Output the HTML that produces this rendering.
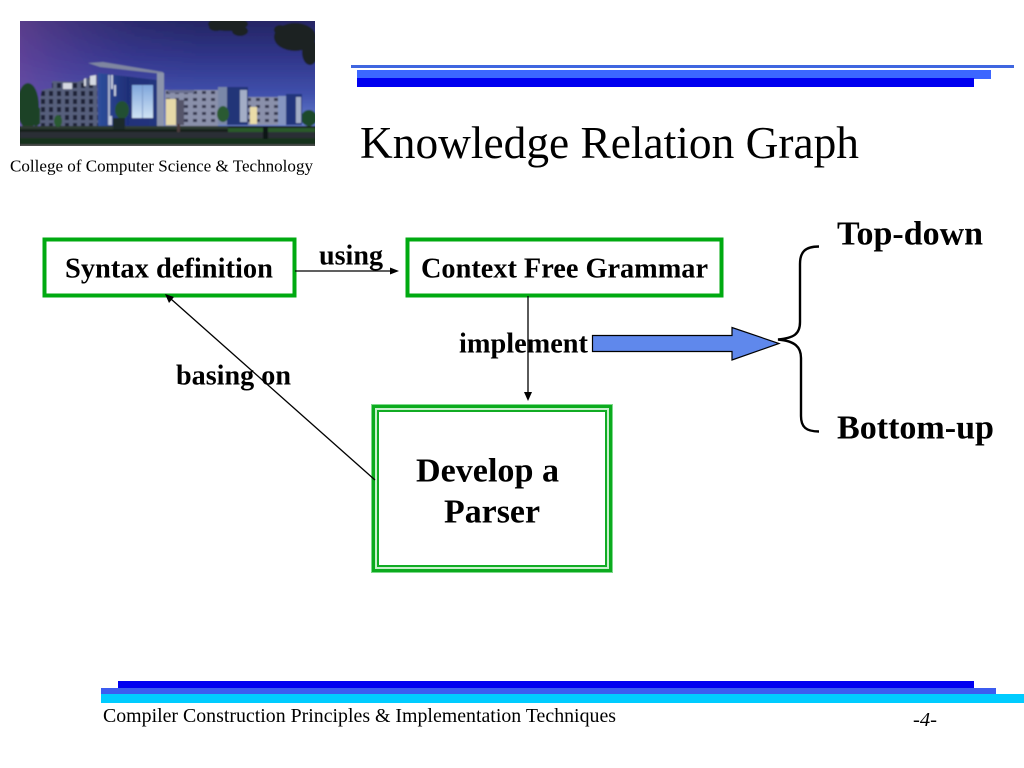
<!DOCTYPE html>
<html><head><meta charset="utf-8"><style>
html,body{margin:0;padding:0;background:#fff;width:1024px;height:768px;overflow:hidden}
svg{display:block}
text{font-family:"Liberation Serif",serif;fill:#000}
.b{font-weight:bold}
</style></head><body>
<svg width="1024" height="768" viewBox="0 0 1024 768" xmlns="http://www.w3.org/2000/svg">
<defs>
<linearGradient id="sky" x1="0" y1="0" x2="0" y2="1"><stop offset="0" stop-color="#23245e"/><stop offset=".35" stop-color="#2f3488"/><stop offset=".7" stop-color="#4050ac"/><stop offset="1" stop-color="#6a84d2"/></linearGradient>
<linearGradient id="skyL" x1="0" y1="0" x2="1" y2="0"><stop offset="0" stop-color="#7a4aa0" stop-opacity=".65"/><stop offset=".4" stop-color="#5040a0" stop-opacity=".15"/><stop offset=".6" stop-color="#5040a0" stop-opacity="0"/></linearGradient>
<linearGradient id="cen" x1="0" y1="0" x2="1" y2="0"><stop offset="0" stop-color="#2e4f9c"/><stop offset=".5" stop-color="#1f2f78"/><stop offset="1" stop-color="#24357e"/></linearGradient>
<linearGradient id="glass" x1="0" y1="0" x2="0" y2="1"><stop offset="0" stop-color="#7fa6dc"/><stop offset="1" stop-color="#cfe2f4"/></linearGradient>
<pattern id="win" x="40" y="82" width="8" height="8" patternUnits="userSpaceOnUse"><rect width="8" height="8" fill="#565e7c"/><rect x="1" y="1" width="4" height="5" fill="#1b2038"/></pattern>
<pattern id="win2" x="165" y="90" width="9" height="7" patternUnits="userSpaceOnUse"><rect width="9" height="7" fill="#8a90aa"/><rect x="1" y="1" width="4" height="3" fill="#343850"/></pattern>
<clipPath id="ph"><rect x="20" y="21" width="295" height="125"/></clipPath>
<filter id="bl" x="0" y="0" width="100%" height="100%"><feGaussianBlur stdDeviation=".7"/></filter>
</defs>
<g clip-path="url(#ph)"><g filter="url(#bl)">
<rect x="15" y="16" width="305" height="112" fill="url(#sky)"/>
<rect x="15" y="16" width="305" height="112" fill="url(#skyL)"/>
<g fill="#1a2322"><ellipse cx="228" cy="24" rx="20" ry="7"/><ellipse cx="240" cy="31" rx="8" ry="5"/><ellipse cx="216" cy="27" rx="7" ry="4"/><ellipse cx="295" cy="37" rx="21" ry="14"/><ellipse cx="310" cy="52" rx="8" ry="13"/><ellipse cx="280" cy="30" rx="6" ry="5"/></g>
<g fill="#1b4228"><ellipse cx="28" cy="106" rx="11" ry="23"/><ellipse cx="36" cy="116" rx="6" ry="10"/></g>
<ellipse cx="309" cy="118" rx="8" ry="8" fill="#1d4a2c"/>
<polygon points="40,98 42,90 52,88 52,81 77,82 97,75 98,126 40,126" fill="url(#win)"/>
<g fill="#d5d9e2"><polygon points="84,79 86,78 86,86 84,86"/><polygon points="90,76 96,75 96,85 90,85"/><rect x="63" y="83" width="9" height="6"/></g>
<polygon points="98,73 157,80 157,127 98,127" fill="url(#cen)"/>
<rect x="108" y="75" width="2" height="50" fill="#a8b2cc"/><rect x="111" y="75" width="2" height="14" fill="#c0c8dc"/><rect x="114" y="85" width="2" height="11" fill="#c0c8dc"/><rect x="109" y="116" width="3" height="9" fill="#c0c8dc"/>
<polygon points="88,63 103,62 163,72 163,74 100,67" fill="#7f86a0"/>
<rect x="157" y="73" width="7" height="53" fill="#8c94ac"/>
<rect x="132" y="85" width="21" height="33" fill="url(#glass)"/>
<rect x="142" y="85" width="1" height="33" fill="#7a98c8"/>
<rect x="165" y="90" width="53" height="37" fill="url(#win2)"/>
<rect x="166" y="99" width="10" height="26" fill="#e6d9a8"/>
<rect x="176" y="100" width="8" height="25" fill="#55556a"/>
<rect x="168" y="90" width="26" height="3" fill="#6a7090"/>
<rect x="218" y="87" width="30" height="38" fill="#233478"/>
<rect x="218" y="87" width="9" height="38" fill="#7a88a8"/>
<rect x="240" y="90" width="7" height="32" fill="#a3adc6"/>
<rect x="248" y="97" width="30" height="28" fill="url(#win2)"/>
<rect x="250" y="107" width="7" height="17" fill="#eadca8"/>
<rect x="278" y="96" width="8" height="29" fill="#8595c0"/>
<rect x="286" y="94" width="16" height="31" fill="#24357c"/>
<rect x="296" y="97" width="5" height="26" fill="#a3adc6"/>
<rect x="15" y="126" width="305" height="25" fill="#12201a"/>
<rect x="228" y="128" width="87" height="5" fill="#2c5a2c"/>
<rect x="20" y="126" width="208" height="3" fill="#2d3a30"/>
<rect x="20" y="132" width="295" height="6" fill="#2a2e34"/>
<rect x="20" y="138" width="295" height="6" fill="#13321c"/>
<rect x="20" y="144.500" width="295" height="2" fill="#555"/>
<ellipse cx="122" cy="110" rx="7" ry="9" fill="#245032"/>
<rect x="113" y="118" width="12" height="11" fill="#1b2b2a"/>
<ellipse cx="223" cy="114" rx="6" ry="8" fill="#2c5a30"/>
<ellipse cx="58" cy="121" rx="4" ry="6" fill="#2c5a30"/>
<rect x="263" y="126" width="5" height="13" fill="#0e1418"/>
<rect x="177" y="124" width="3" height="8" fill="#4c3a3a"/>
</g></g>
<text x="10" y="171.500" font-size="16.800" textLength="303" lengthAdjust="spacingAndGlyphs">College of Computer Science &amp; Technology</text>

<rect x="351" y="65" width="663" height="3" fill="#3f66e0"/>
<rect x="357" y="70" width="634" height="9" fill="#3c66ff"/>
<rect x="357" y="78" width="617" height="9" fill="#0000f0"/>
<text x="360" y="158" font-size="45.400" textLength="499" lengthAdjust="spacingAndGlyphs">Knowledge Relation Graph</text>

<rect x="44.500" y="239.500" width="250" height="56" fill="#fff" stroke="#00aa11" stroke-width="4"/>
<rect x="407.500" y="239.500" width="314" height="56" fill="#fff" stroke="#00aa11" stroke-width="4"/>
<text class="b" x="65" y="277.500" font-size="28.300" textLength="208" lengthAdjust="spacingAndGlyphs">Syntax definition</text>
<text class="b" x="421" y="277.500" font-size="28.300" textLength="287" lengthAdjust="spacingAndGlyphs">Context Free Grammar</text>
<text class="b" x="319" y="264.500" font-size="28.300" textLength="64" lengthAdjust="spacingAndGlyphs">using</text>
<text class="b" x="459" y="352.500" font-size="28.300" textLength="129" lengthAdjust="spacingAndGlyphs">implement</text>
<text class="b" x="176" y="384.500" font-size="28.300" textLength="115" lengthAdjust="spacingAndGlyphs">basing on</text>

<line x1="295" y1="271" x2="392" y2="271" stroke="#000" stroke-width="1.300"/>
<polygon points="399,271 390,267.500 390,274.500" fill="#000"/>
<line x1="528" y1="296" x2="528" y2="392" stroke="#000" stroke-width="1.300"/>
<polygon points="528,401 524,392 532,392" fill="#000"/>

<rect x="371.500" y="404.500" width="241" height="168" fill="#fff" stroke="#7fd98c" stroke-width="1"/>
<rect x="373.500" y="406.500" width="237" height="164" fill="#c8f0cc" stroke="#0cab1e" stroke-width="3"/>
<rect x="378" y="411" width="228" height="155" fill="#fff" stroke="#11ac24" stroke-width="2"/>
<line x1="375" y1="480" x2="171" y2="299" stroke="#000" stroke-width="1.300"/>
<polygon points="165,294 174,297 169,303" fill="#000"/>
<text class="b" x="416" y="481.500" font-size="34" textLength="143" lengthAdjust="spacingAndGlyphs">Develop a</text>
<text class="b" x="444" y="522.500" font-size="34" textLength="96" lengthAdjust="spacingAndGlyphs">Parser</text>

<polygon points="592.500,335.500 732,335.500 732,327.500 779,343.500 732,360 732,351.500 592.500,351.500" fill="#5f88ec" stroke="#000" stroke-width="1.200"/>
<path d="M819,246.500 C805,246.500 800,252 800,264 L800,322 C800,334 794,338 778,339.500 C795,341 801,347 801,358 L801,416 C801,427 806,431.500 819,431.500" fill="none" stroke="#000" stroke-width="2.400"/>
<text class="b" x="837" y="244.500" font-size="33.700" textLength="146" lengthAdjust="spacingAndGlyphs">Top-down</text>
<text class="b" x="837" y="438.500" font-size="33.700" textLength="157" lengthAdjust="spacingAndGlyphs">Bottom-up</text>

<rect x="118" y="681" width="856" height="8" fill="#0000f0"/>
<rect x="101" y="688" width="895" height="6" fill="#3c5cf0"/>
<rect x="101" y="694" width="923" height="9" fill="#00ccff"/>
<text x="103" y="722" font-size="19.800" textLength="513" lengthAdjust="spacingAndGlyphs">Compiler Construction Principles &amp; Implementation Techniques</text>
<text x="913" y="726" font-size="20.500" font-style="italic" textLength="24" lengthAdjust="spacingAndGlyphs">-4-</text>
</svg>
</body></html>
